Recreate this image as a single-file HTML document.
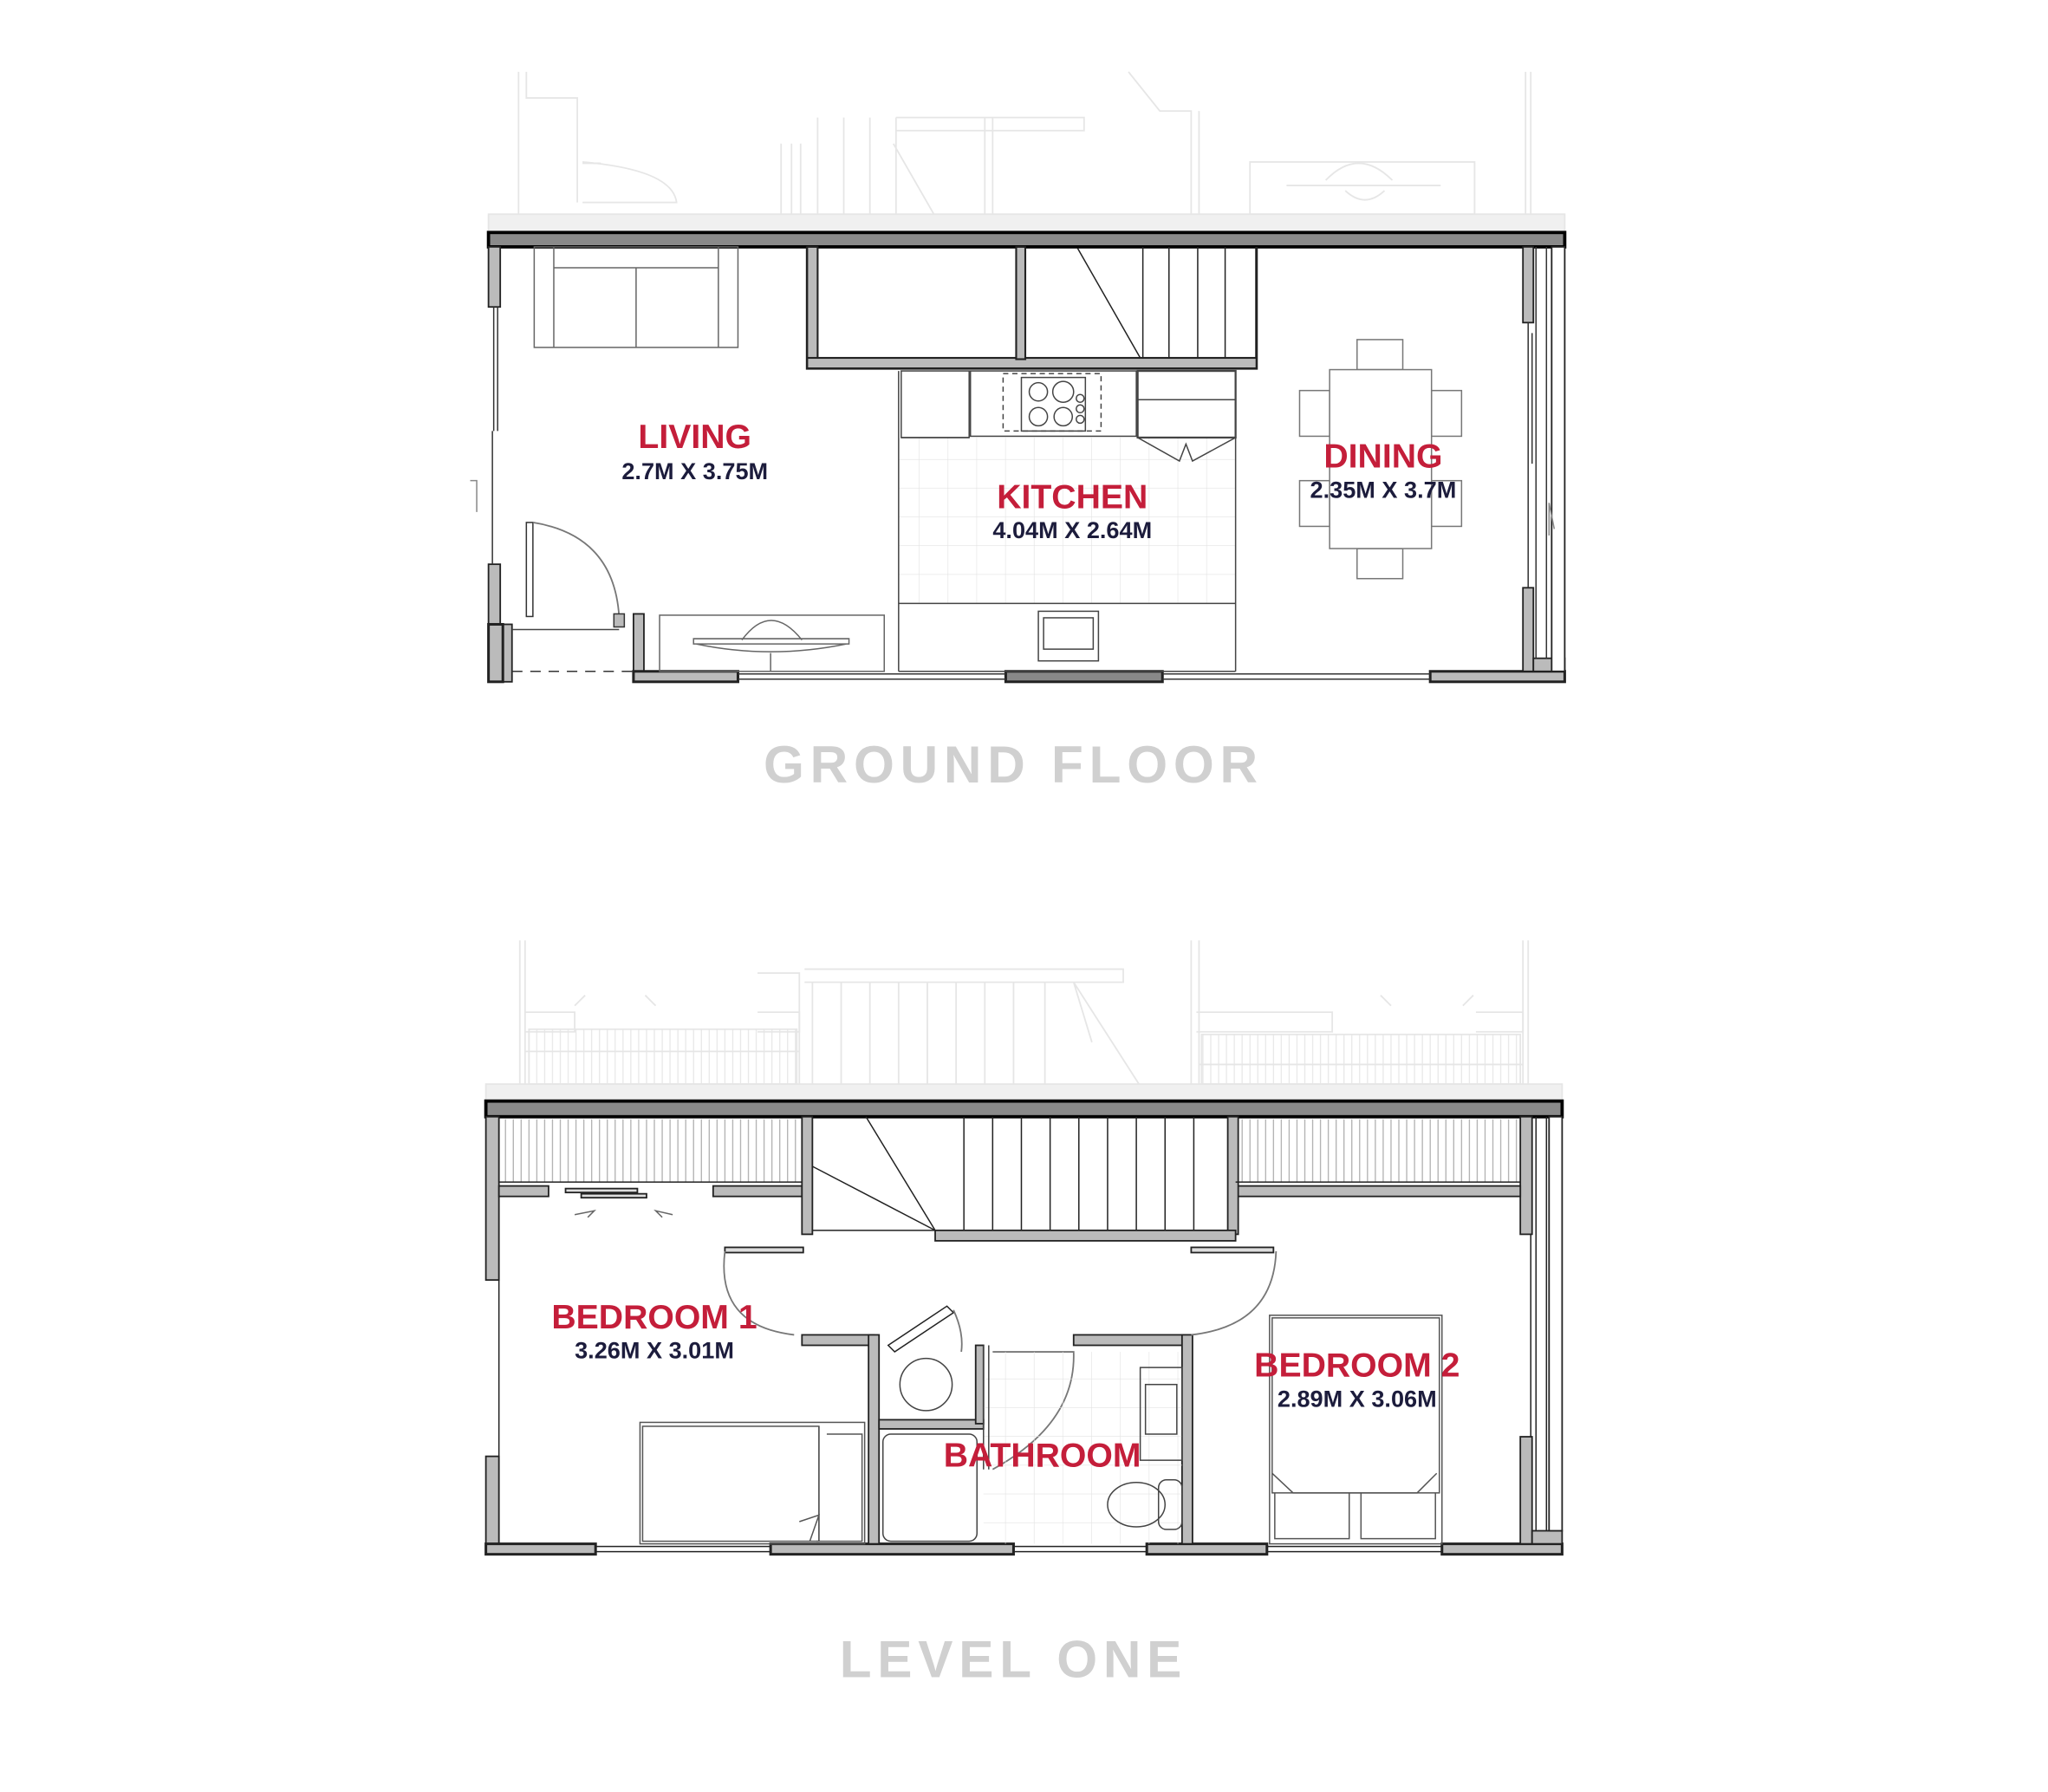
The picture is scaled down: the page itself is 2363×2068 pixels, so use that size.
<!DOCTYPE html>
<html><head><meta charset="utf-8"><style>
html,body{margin:0;padding:0;background:#fff;}
svg{display:block;}
.lbl{font-family:"Liberation Sans",sans-serif;font-weight:bold;fill:#c41e3a;text-anchor:middle;}
.dim{font-family:"Liberation Sans",sans-serif;font-weight:bold;fill:#1c1c3c;text-anchor:middle;}
.ttl{font-family:"Liberation Sans",sans-serif;font-weight:bold;fill:#d0d0d0;text-anchor:middle;letter-spacing:4.5px;}
</style></head><body>
<svg width="2363" height="2068" viewBox="0 0 1568 1372" preserveAspectRatio="none" xmlns="http://www.w3.org/2000/svg">
<defs>
<pattern id="hatch" width="6" height="60" patternUnits="userSpaceOnUse"><line x1="3" y1="0" x2="3" y2="60" stroke="#aaa" stroke-width="0.8"/></pattern>
<pattern id="hatchL" width="6" height="60" patternUnits="userSpaceOnUse"><line x1="3" y1="0" x2="3" y2="60" stroke="#e6e6e6" stroke-width="0.8"/></pattern>
<pattern id="tile" width="22" height="22" patternUnits="userSpaceOnUse"><path d="M22 0V22H0" fill="none" stroke="#e2e2e2" stroke-width="0.8"/></pattern>
</defs>
<rect width="1568" height="1372" fill="#fff"/>

<!-- ===== GROUND FLOOR ghost ===== -->
<g fill="none" stroke="#e6e6e6" stroke-width="1.2">
<rect x="374" y="164" width="824" height="14" fill="#f0f0f0"/>
<path d="M397 55V164M403 55V75H442V86M442 86V155M446 125H460"/>
<path d="M446 124Q515 130 518 155H446"/>
<path d="M598 110V164M606 110V164M613 110V164M626 90V164M646 90V164M666 90V164M686 90V164M754 90V164M760 90V164M684 110L715 164M686 90H830V100H686M864 55L888 85H912V164M918 85V164"/>
<rect x="957" y="124" width="172" height="40"/>
<path d="M1015 138Q1040 112 1066 138M985 142H1103M1030 146Q1045 160 1060 146"/>
<path d="M1168 55V164M1172 55V164"/>
</g>

<!-- ===== GROUND FLOOR ===== -->
<g stroke="#222" stroke-width="1.2">
<rect x="374" y="178" width="824" height="11" fill="#8a8a8a" stroke="#000" stroke-width="2.5"/>
<rect x="374" y="189" width="9" height="46" fill="#bbb"/>
<rect x="374" y="432" width="9" height="46" fill="#bbb"/>
<rect x="385" y="478" width="7" height="44" fill="#bbb"/>
<rect x="374" y="478" width="11" height="44" fill="#bbb" stroke-width="2"/>
<rect x="485" y="470" width="8" height="44" fill="#bbb"/>
<rect x="485" y="514" width="80" height="8" fill="#bbb" stroke-width="2"/>
<rect x="770" y="514" width="120" height="8" fill="#888" stroke-width="2"/>
<rect x="1095" y="514" width="103" height="8" fill="#bbb" stroke-width="2"/>
<rect x="1166" y="189" width="8" height="58" fill="#bbb"/>
<rect x="1166" y="450" width="8" height="64" fill="#bbb"/>
<rect x="1174" y="504" width="24" height="10" fill="#bbb"/>
<rect x="1188" y="189" width="10" height="325" fill="#fff" stroke="#222"/>
</g>
<g fill="none" stroke="#333" stroke-width="1">
<path d="M378 235V330M381 235V330M377 330V432M1170 247V450M1173 255V355M1184 189V504M1176 189V504"/>
<path d="M565 516H770M565 520H770M890 516H1095M890 520H1095"/>
<path d="M392 514H485" stroke-dasharray="8 6"/>
<path d="M392 482H474" stroke="#444"/>
<path d="M360 368L365 368L365 392" stroke="#888"/>
<path d="M1186 385L1190 405M1186 385V410" stroke="#888"/>
</g>
<rect x="403" y="400" width="5" height="72" fill="#fff" stroke="#333"/>
<path d="M408 400Q470 410 474 472" fill="none" stroke="#777" stroke-width="1.2"/>
<rect x="470" y="470" width="8" height="10" fill="#bbb" stroke="#333"/>
<g fill="none" stroke="#666" stroke-width="1">
<rect x="409" y="189" width="156" height="77"/>
<path d="M424 189V266M550 189V266M424 205H550M487 205V266"/>
</g>
<g fill="none" stroke="#666" stroke-width="1">
<rect x="505" y="471" width="172" height="43"/>
<path d="M568 490Q590 460 614 490M531 489H650V493H531ZM533 493Q590 505 648 493M590 500V514"/>
</g>
<g stroke="#222" stroke-width="1.4">
<path d="M618 189V282H962V189" fill="none" stroke-width="2"/>
<rect x="618" y="189" width="8" height="92" fill="#bbb"/>
<rect x="618" y="274" width="344" height="8" fill="#bbb"/>
<rect x="778" y="189" width="7" height="86" fill="#bbb"/>
</g>
<g stroke="#222" stroke-width="1" fill="none">
<path d="M875 189V274M895 189V274M917 189V274M938 189V274M962 189V274M825 190L873 274"/>
</g>
<rect x="688" y="335" width="258" height="127" fill="url(#tile)"/>
<g fill="none" stroke="#444" stroke-width="1">
<path d="M688 284V514M946 284V514M688 462H946M688 514H946"/>
<rect x="690" y="284" width="52" height="51"/>
<path d="M690 335H742"/>
<rect x="743" y="284" width="127" height="50"/>
<rect x="768" y="286" width="75" height="44" stroke-dasharray="4 3"/>
<rect x="782" y="289" width="49" height="41"/>
<circle cx="795" cy="300" r="7"/><circle cx="814" cy="300" r="8"/><circle cx="795" cy="319" r="7"/><circle cx="814" cy="319" r="7"/>
<circle cx="827" cy="305" r="3"/><circle cx="827" cy="313" r="3"/><circle cx="827" cy="321" r="3"/>
<rect x="871" y="284" width="75" height="51" stroke-width="1.5"/>
<path d="M871 306H946M871 335L903 353L908 340L913 353L946 335"/>
<rect x="795" y="468" width="46" height="38"/>
<rect x="799" y="473" width="38" height="24"/>
</g>
<g fill="#fff" stroke="#777" stroke-width="1">
<rect x="1039" y="260" width="35" height="23"/>
<rect x="1039" y="420" width="35" height="23"/>
<rect x="995" y="299" width="23" height="35"/>
<rect x="995" y="368" width="23" height="35"/>
<rect x="1096" y="299" width="23" height="35"/>
<rect x="1096" y="368" width="23" height="35"/>
<rect x="1018" y="283" width="78" height="137"/>
</g>
<text class="lbl" x="532" y="343" font-size="26">LIVING</text>
<text class="dim" x="532" y="367" font-size="18">2.7M X 3.75M</text>
<text class="lbl" x="821" y="389" font-size="26">KITCHEN</text>
<text class="dim" x="821" y="412" font-size="18">4.04M X 2.64M</text>
<text class="lbl" x="1059" y="358" font-size="26">DINING</text>
<text class="dim" x="1059" y="381" font-size="18">2.35M X 3.7M</text>
<text class="ttl" x="776" y="599" font-size="40">GROUND FLOOR</text>

<!-- ===== LEVEL ONE ghost ===== -->
<g fill="none" stroke="#e6e6e6" stroke-width="1.2">
<rect x="372" y="830" width="824" height="13" fill="#f0f0f0"/>
<path d="M398 720V830M402 720V830M1166 720V830M1170 720V830"/>
<path d="M402 775H440V790H402M580 775H612V790H580M916 775H1020V790H916M1130 775H1166V790H1130"/>
<path d="M616 742H860V752H616M580 745H612V830M612 745V830M622 752V830M644 752V830M666 752V830M688 752V830M710 752V830M732 752V830M754 752V830M776 752V830M800 752V830M822 752L872 830M822 752L836 798M912 720V830M918 720V830"/>
<path d="M440 770L448 762M502 770L494 762M1065 770L1057 762M1120 770L1128 762"/>
<rect x="405" y="788" width="205" height="42" fill="url(#hatchL)"/>
<rect x="920" y="792" width="244" height="38" fill="url(#hatchL)"/>
<path d="M402 805H612M918 815H1166"/>
</g>

<!-- ===== LEVEL ONE ===== -->
<rect x="385" y="857" width="228" height="48" fill="url(#hatch)"/>
<rect x="949" y="857" width="213" height="48" fill="url(#hatch)"/>
<g stroke="#222" stroke-width="1.2">
<rect x="372" y="843" width="824" height="12" fill="#8a8a8a" stroke="#000" stroke-width="2.5"/>
<rect x="372" y="855" width="10" height="125" fill="#bbb"/>
<rect x="372" y="1115" width="10" height="67" fill="#bbb"/>
<rect x="372" y="1182" width="84" height="8" fill="#bbb" stroke-width="2"/>
<rect x="590" y="1182" width="186" height="8" fill="#bbb" stroke-width="2"/>
<rect x="878" y="1182" width="92" height="8" fill="#bbb" stroke-width="2"/>
<rect x="1104" y="1182" width="92" height="8" fill="#bbb" stroke-width="2"/>
<rect x="1164" y="855" width="9" height="90" fill="#bbb"/>
<rect x="1164" y="1100" width="9" height="82" fill="#bbb"/>
<rect x="1173" y="1172" width="23" height="10" fill="#bbb"/>
<rect x="1186" y="855" width="10" height="317" fill="#fff"/>
<rect x="382" y="908" width="38" height="8" fill="#bbb"/>
<rect x="546" y="908" width="68" height="8" fill="#bbb"/>
<rect x="614" y="855" width="8" height="90" fill="#bbb"/>
<rect x="946" y="908" width="218" height="8" fill="#bbb"/>
<rect x="940" y="855" width="8" height="90" fill="#bbb"/>
<rect x="716" y="942" width="230" height="8" fill="#bbb"/>
<rect x="433" y="910" width="55" height="3" fill="#ddd"/>
<rect x="445" y="914" width="50" height="3" fill="#ddd"/>
<rect x="555" y="955" width="60" height="4" fill="#ddd"/>
<rect x="912" y="955" width="63" height="4" fill="#ddd"/>
<rect x="614" y="1022" width="55" height="8" fill="#bbb"/>
<rect x="665" y="1022" width="8" height="160" fill="#bbb"/>
<rect x="673" y="1087" width="80" height="7" fill="#bbb"/>
<rect x="747" y="1030" width="6" height="60" fill="#bbb"/>
<rect x="822" y="1022" width="90" height="8" fill="#bbb"/>
<rect x="905" y="1022" width="8" height="160" fill="#bbb"/>
</g>
<g fill="none" stroke="#222" stroke-width="1">
<path d="M382 916V1182M1172 945V1100M1184 855V1172M1176 855V1172"/>
<path d="M456 1184H590M456 1188H590M776 1184H878M776 1188H878M970 1184H1104M970 1188H1104"/>
<path d="M382 905H614M946 905H1164M382 857V905"/>
<path d="M622 942H716M622 893L716 942M663 855L716 942"/>
<path d="M738 855V942M760 855V942M782 855V942M804 855V942M826 855V942M848 855V942M870 855V942M892 855V942M914 855V942"/>
<path d="M440 930L455 927L450 932M515 930L502 927L507 932" stroke="#666"/>
<path d="M680 1030L725 1000L730 1005L685 1035Z"/>
</g>
<g fill="none" stroke="#777" stroke-width="1.2">
<path d="M555 958Q548 1015 608 1022"/>
<path d="M977 958Q975 1015 912 1022"/>
<path d="M730 1003Q738 1020 736 1035"/>
<path d="M760 1035H822Q824 1090 760 1125"/>
</g>
<rect x="753" y="1035" width="152" height="147" fill="url(#tile)"/>
<g fill="none" stroke="#444" stroke-width="1">
<path d="M753 1030V1125M757 1030V1125"/>
<circle cx="709" cy="1060" r="20"/>
<rect x="676" y="1098" width="72" height="82" rx="6"/>
<rect x="873" y="1047" width="32" height="71"/>
<rect x="877" y="1060" width="24" height="38"/>
<ellipse cx="870" cy="1152" rx="22" ry="17"/>
<rect x="887" y="1133" width="18" height="38" rx="6"/>
</g>
<g fill="none" stroke="#555" stroke-width="1">
<rect x="490" y="1089" width="172" height="93"/>
<rect x="492" y="1092" width="135" height="88"/>
<path d="M627 1092V1180M633 1098H660V1180H625M612 1165L627 1160L620 1180"/>
<rect x="972" y="1007" width="132" height="175"/>
<rect x="974" y="1009" width="128" height="134"/>
<path d="M974 1128L990 1143H1085L1100 1128M976 1143V1178H1033V1143M1042 1143V1178H1099V1143"/>
</g>
<text class="lbl" x="501" y="1017" font-size="26">BEDROOM 1</text>
<text class="dim" x="501" y="1040" font-size="18">3.26M X 3.01M</text>
<text class="lbl" x="1039" y="1054" font-size="26">BEDROOM 2</text>
<text class="dim" x="1039" y="1077" font-size="18">2.89M X 3.06M</text>
<text class="lbl" x="798" y="1123" font-size="26">BATHROOM</text>
<text class="ttl" x="776" y="1284" font-size="40">LEVEL ONE</text>
</svg>
</body></html>
